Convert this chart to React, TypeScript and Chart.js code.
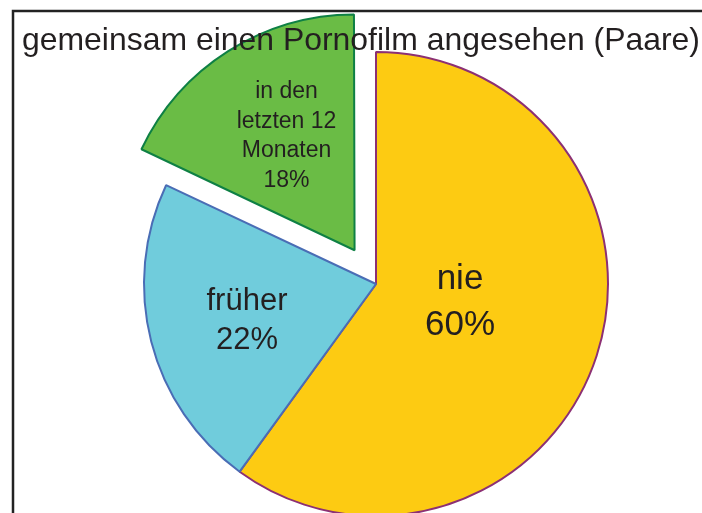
import React, { useEffect, useRef } from "react";
import { Chart, registerables } from "chart.js";

Chart.register(...registerables);

const title = "gemeinsam einen Pornofilm angesehen (Paare)";
const categories = ["nie", "früher", "in den letzten 12 Monaten"];
const shares = [60, 22, 18];
const labelLines = [["nie"], ["früher"], ["in den", "letzten 12", "Monaten"]];
const fillColors = ["#FDCB12", "#70CCDC", "#6ABC45"];
const borderColors = ["#8C3074", "#4A6DB5", "#0E8044"];
// Chart.js translates an arc by offset / 4
const sliceOffsets = [0, 0, 160];

// label layout (relative to pie centre, px)
const labelFont = [35, 31, 23];
const labelDx = [84, -129, -89.5];
const labelBaseY = [5, 26, -186];
const labelLineHeight = [46, 39, 29.7];

const FONT = '"Liberation Sans", Arial, Helvetica, sans-serif';
const TEXT = "#231F20";

const overlayPlugin = {
  id: "overlay",
  beforeDraw(chart: any) {
    const ctx = chart.ctx;
    ctx.save();
    ctx.fillStyle = "#ffffff";
    ctx.fillRect(0, 0, chart.width, chart.height);
    ctx.strokeStyle = "#222222";
    ctx.lineWidth = 2.5;
    ctx.strokeRect(13, 11, 1200, 1200);
    ctx.restore();
  },
  afterDraw(chart: any) {
    const ctx = chart.ctx;
    const meta = chart.getDatasetMeta(0);
    const a0 = meta.data[0];
    const cx = a0.x;
    const cy = a0.y;
    ctx.save();
    ctx.fillStyle = TEXT;
    ctx.textAlign = "center";
    ctx.textBaseline = "alphabetic";
    labelLines.forEach((lines, i) => {
      const pct = shares[i] + "%";
      const all = [...lines, pct];
      ctx.font = `${labelFont[i]}px ${FONT}`;
      all.forEach((t, j) => {
        ctx.fillText(t, cx + labelDx[i], cy + labelBaseY[i] + j * labelLineHeight[i]);
      });
    });
    // title
    ctx.font = `32px ${FONT}`;
    ctx.textAlign = "left";
    const w = ctx.measureText(title).width;
    const target = 678;
    ctx.translate(22, 49.5);
    ctx.scale(target / w, 1);
    ctx.fillText(title, 0, 0);
    ctx.restore();
  },
};

export default function App() {
  const ref = useRef<HTMLCanvasElement | null>(null);
  useEffect(() => {
    document.body.style.margin = "0";
    if (!ref.current) return;
    const chart = new Chart(ref.current, {
      type: "pie",
      data: {
        labels: categories,
        datasets: [
          {
            data: shares,
            backgroundColor: fillColors,
            borderColor: borderColors,
            borderWidth: 2,
            offset: sliceOffsets,
            radius: 232,
            clip: false,
          } as any,
        ],
      },
      options: {
        responsive: false,
        animation: false,
        events: [],
        layout: { padding: { left: 50, top: 55, right: 0, bottom: 0 } },
        plugins: {
          legend: { display: false },
          tooltip: { enabled: false },
          title: { display: false },
        },
      },
      plugins: [overlayPlugin],
    });
    return () => chart.destroy();
  }, []);
  return (
    <canvas ref={ref} width={702} height={513} style={{ display: "block", width: 702, height: 513 }} />
  );
}
